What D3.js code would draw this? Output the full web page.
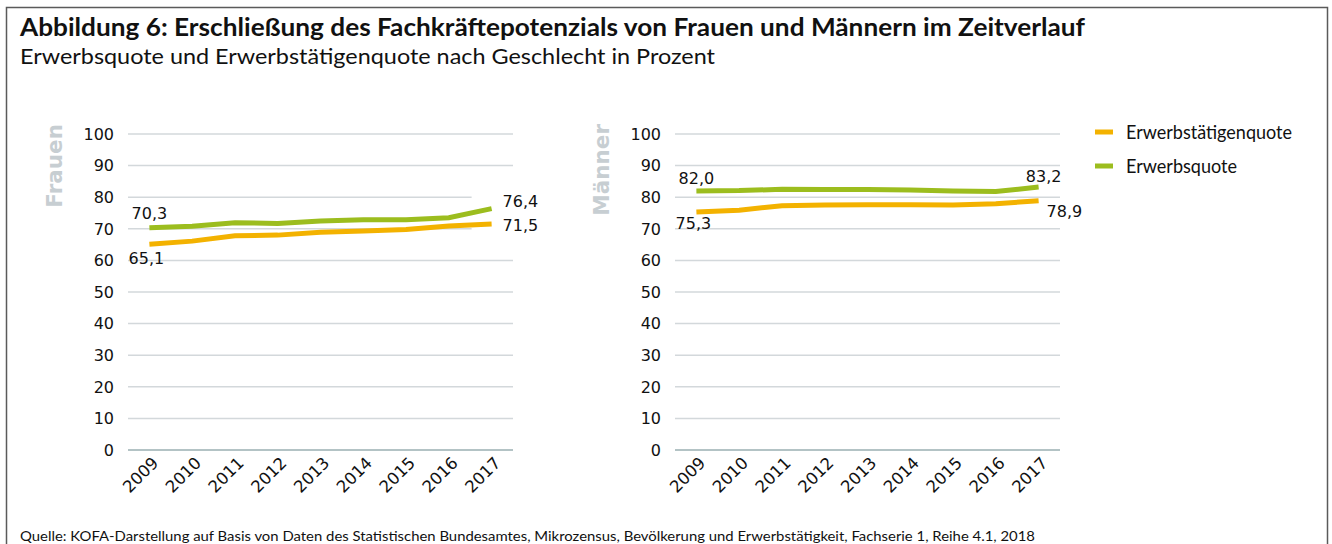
<!DOCTYPE html>
<html>
<head>
<meta charset="utf-8">
<script src="https://cdn.jsdelivr.net/npm/d3@7"></script>
<style>
  html, body { margin: 0; padding: 0; background: #fff; }
  svg { display: block; }
</style>
</head>
<body>
<svg id="chart" width="1332" height="544"></svg>
<script>
// ------------------------------------------------------------------
// data
// ------------------------------------------------------------------
const years = ["2009", "2010", "2011", "2012", "2013", "2014", "2015", "2016", "2017"];
const yTicks = [0, 10, 20, 30, 40, 50, 60, 70, 80, 90, 100];

const frauenErwerbsquote = [70.3, 70.8, 71.9, 71.7, 72.5, 72.9, 72.9, 73.5, 76.4];
const frauenErwerbstaetigenquote = [65.1, 66.1, 67.8, 68.0, 68.9, 69.3, 69.8, 70.9, 71.5];
const maennerErwerbsquote = [82.0, 82.1, 82.5, 82.4, 82.4, 82.3, 82.0, 81.8, 83.2];
const maennerErwerbstaetigenquote = [75.3, 75.9, 77.3, 77.5, 77.6, 77.6, 77.5, 77.9, 78.9];

const seriesNames = ["Erwerbstätigenquote", "Erwerbsquote"];
const panelNames = ["Frauen", "Männer"];

const COLOR = {
  "Erwerbstätigenquote": "#f3b200",
  "Erwerbsquote": "#9cbd1e",
};

// ------------------------------------------------------------------
// layout
// ------------------------------------------------------------------
const svg = d3.select("#chart");
const FONT_TEXT = "Lato, 'Open Sans', sans-serif";
const FONT_AXIS = "'DejaVu Sans', Verdana, sans-serif";
const fmt = v => v.toFixed(1).replace(".", ",");

// frame
svg.append("rect")
  .attr("x", 6.5).attr("y", 7.5)
  .attr("width", 1321).attr("height", 560)
  .attr("fill", "none").attr("stroke", "#5a5a5a").attr("stroke-width", 1.5);

function fitText(sel, width) {
  sel.attr("textLength", width).attr("lengthAdjust", "spacingAndGlyphs");
}

svg.append("text")
  .attr("x", 20).attr("y", 36)
  .attr("font-family", FONT_TEXT).attr("font-weight", 700).attr("font-size", 24)
  .attr("fill", "#111")
  .text("Abbildung 6: Erschließung des Fachkräftepotenzials von Frauen und Männern im Zeitverlauf")
  .call(fitText, 1065);

svg.append("text")
  .attr("x", 20).attr("y", 64)
  .attr("font-family", FONT_TEXT).attr("font-size", 21)
  .attr("fill", "#111")
  .text("Erwerbsquote und Erwerbstätigenquote nach Geschlecht in Prozent")
  .call(fitText, 695);

svg.append("text")
  .attr("x", 20).attr("y", 541)
  .attr("font-family", FONT_TEXT).attr("font-size", 14)
  .attr("fill", "#111")
  .text("Quelle: KOFA-Darstellung auf Basis von Daten des Statistischen Bundesamtes, Mikrozensus, Bevölkerung und Erwerbstätigkeit, Fachserie 1, Reihe 4.1, 2018")
  .call(fitText, 1015);

// label placements (first / last point) per panel and series
const LABELS = {
  "Frauen": {
    "Erwerbsquote": [{ dx: 0, dy: -9, anchor: "middle" }, { dx: 11, dy: -7, anchor: "start", bg: true }],
    "Erwerbstätigenquote": [{ dx: -3, dy: 20, anchor: "middle" }, { dx: 11, dy: 1, anchor: "start", bg: true }],
  },
  "Männer": {
    "Erwerbsquote": [{ dx: 0, dy: -7, anchor: "middle" }, { dx: 5, dy: -5, anchor: "middle" }],
    "Erwerbstätigenquote": [{ dx: -3, dy: 17, anchor: "middle" }, { dx: 8, dy: 16, anchor: "start" }],
  },
};

const panels = [
  { name: "Frauen", x0: 128, x1: 513, titleX: 62, tickX: 114,
    series: { "Erwerbstätigenquote": frauenErwerbstaetigenquote, "Erwerbsquote": frauenErwerbsquote } },
  { name: "Männer", x0: 675, x1: 1060, titleX: 609, tickX: 661,
    series: { "Erwerbstätigenquote": maennerErwerbstaetigenquote, "Erwerbsquote": maennerErwerbsquote } },
];

const y = d3.scaleLinear().domain([0, 100]).range([450, 134]);

panels.forEach(p => {
  const x = d3.scaleBand().domain(years).range([p.x0, p.x1]);
  const cx = yr => x(yr) + x.bandwidth() / 2;
  const g = svg.append("g");

  // grid
  g.append("g").selectAll("line")
    .data(yTicks)
    .join("line")
    .attr("x1", p.x0).attr("x2", p.x1)
    .attr("y1", d => y(d)).attr("y2", d => y(d))
    .attr("stroke", d => (d === 0 ? "#b3c3c5" : "#d3d8db"))
    .attr("stroke-width", d => (d === 0 ? 2 : 1.5));

  // y tick labels
  g.append("g").selectAll("text")
    .data(yTicks)
    .join("text")
    .attr("x", p.tickX).attr("y", d => y(d))
    .attr("dy", "0.36em")
    .attr("text-anchor", "end")
    .attr("font-family", FONT_AXIS).attr("font-size", 16)
    .attr("fill", "#111")
    .text(d => d);

  // x tick labels, rotated
  g.append("g").selectAll("text")
    .data(years)
    .join("text")
    .attr("transform", d => `translate(${cx(d) + 10},${y(0) + 14}) rotate(-45)`)
    .attr("text-anchor", "end")
    .attr("font-family", FONT_AXIS).attr("font-size", 16.5)
    .attr("fill", "#111")
    .text(d => d);

  // panel title
  g.append("text")
    .attr("transform", `translate(${p.titleX},124) rotate(-90)`)
    .attr("text-anchor", "end")
    .attr("font-family", FONT_AXIS).attr("font-weight", 700).attr("font-size", 21.5)
    .attr("fill", "#c7ced2")
    .text(p.name);

  const line = d3.line().x((d, i) => cx(years[i])).y(d => y(d));

  const labelData = [];
  seriesNames.forEach(s => {
    const vals = p.series[s];
    const place = LABELS[p.name][s];
    [0, vals.length - 1].forEach((idx, k) => {
      labelData.push({ s, v: vals[idx], px: cx(years[idx]), py: y(vals[idx]), ...place[k] });
    });
  });

  // white label boxes (hide grid behind some labels)
  g.append("g").selectAll("rect")
    .data(labelData.filter(d => d.bg))
    .join("rect")
    .attr("x", d => d.px - 20).attr("y", d => d.py + d.dy - 8)
    .attr("width", 62).attr("height", 16)
    .attr("fill", "#fff");

  g.append("g").selectAll("path")
    .data(seriesNames)
    .join("path")
    .attr("d", s => line(p.series[s]))
    .attr("fill", "none")
    .attr("stroke", s => COLOR[s])
    .attr("stroke-width", 5);

  g.append("g").selectAll("text")
    .data(labelData)
    .join("text")
    .attr("x", d => d.px + d.dx)
    .attr("y", d => d.py + d.dy)
    .attr("dy", d => (d.bg ? "0.36em" : 0))
    .attr("text-anchor", d => d.anchor)
    .attr("font-family", FONT_AXIS).attr("font-size", 16)
    .attr("fill", "#111")
    .text(d => fmt(d.v));
});

// legend
const legend = svg.append("g").selectAll("g")
  .data(seriesNames)
  .join("g")
  .attr("transform", (d, i) => `translate(1095,${132 + i * 34})`);

legend.append("line")
  .attr("x1", 0).attr("x2", 18)
  .attr("stroke", d => COLOR[d]).attr("stroke-width", 5);

legend.append("text")
  .attr("x", 31).attr("y", 0).attr("dy", "0.36em")
  .attr("font-family", FONT_TEXT).attr("font-size", 19)
  .attr("fill", "#111")
  .text(d => d)
  .each(function (d) { d3.select(this).call(fitText, d === "Erwerbsquote" ? 111 : 166); });
</script>
</body>
</html>
